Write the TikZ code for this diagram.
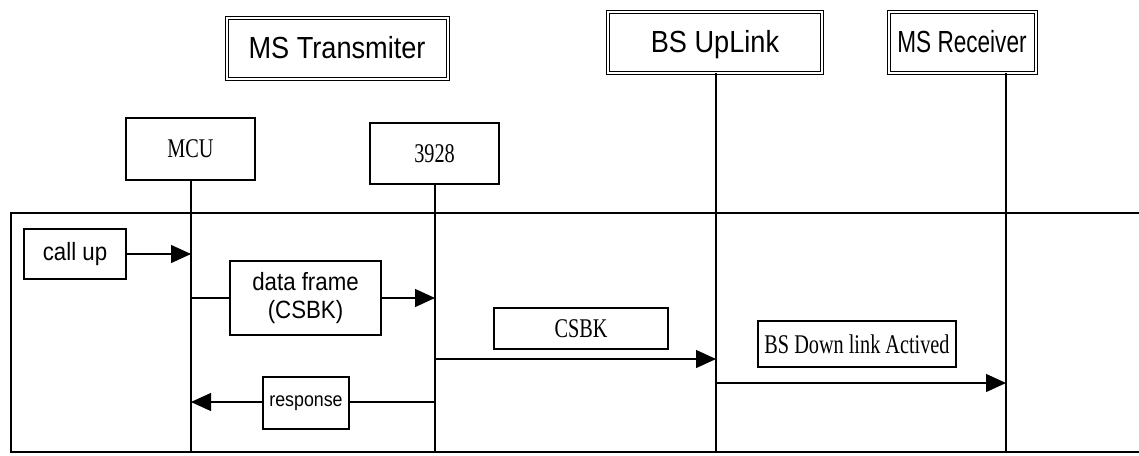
\documentclass[tikz,border=0pt]{standalone}
\usepackage{fontspec}
\setmainfont{Liberation Serif}
\newfontfamily\hdrfont[FakeStretch=0.89]{Liberation Sans}
\newfontfamily\hdrnarrow[FakeStretch=0.74]{Liberation Sans}
\newfontfamily\narrowserif[FakeStretch=0.75]{Liberation Serif}
\usetikzlibrary{arrows.meta}
\begin{document}
\begin{tikzpicture}[x=1pt,y=-1pt,
  line width=1.2pt,
  entity/.style={draw, double, double distance=2pt, line width=1pt, inner sep=0pt,
    text depth=1pt, font=\hdrfont\fontsize{30.5}{32}\selectfont},
  unit/.style={draw, inner sep=0pt, font=\narrowserif\fontsize{27}{29}\selectfont},
  sanslabel/.style={draw, inner sep=0pt, font=\hdrfont\fontsize{25}{28}\selectfont, align=center},
  serlabel/.style={draw, inner sep=0pt, font=\narrowserif\fontsize{27}{29}\selectfont},
  msg/.style={-{Triangle[length=20pt,width=18pt]}},
  life/.style={line width=1.2pt}]
\useasboundingbox (0,0) rectangle (1139,455);

% participants
\node[entity, minimum width=221pt, minimum height=61pt] (mst) at (337,48) {MS Transmiter};
\node[entity, minimum width=214pt, minimum height=61pt] (bsu) at (715,42) {BS UpLink};
\node[entity, minimum width=147pt, minimum height=61pt,
      font=\hdrnarrow\fontsize{30.5}{32}\selectfont] (msr) at (962,42) {MS Receiver};
\node[unit, minimum width=129pt, minimum height=62pt] (mcu) at (190.5,149) {MCU};
\node[unit, minimum width=129pt, minimum height=61pt] (chip) at (434.5,153.5) {3928};

% frame (open on the right)
\coordinate (ftl) at (11,213);
\coordinate (ftr) at (1139,213);
\coordinate (fbl) at (11,452);
\coordinate (fbr) at (1139,452);
\draw (ftr) -- (ftl) -- (fbl) -- (fbr);

% lifelines
\coordinate (mcuL) at (191,452);
\coordinate (chipL) at (435,452);
\coordinate (bsuL) at (716,452);
\coordinate (msrL) at (1006,452);
\draw[life] (mcu.south -| mcuL) -- (mcuL);
\draw[life] (chip.south -| chipL) -- (chipL);
\draw[life] (bsu.south -| bsuL) -- (bsuL);
\draw[life] (msr.south -| msrL) -- (msrL);

% message labels
\node[sanslabel, minimum width=102pt, minimum height=50pt] (callup) at (75,254) {call up};
\node[sanslabel, minimum width=151pt, minimum height=74pt] (frame) at (305.5,298) {data frame\\(CSBK)};
\node[sanslabel, minimum width=86pt, minimum height=52pt, font=\hdrfont\fontsize{20}{22}\selectfont] (resp) at (306,403) {response};
\node[serlabel, minimum width=174pt, minimum height=41pt] (csbk) at (581,328.5) {CSBK};
\node[serlabel, minimum width=198pt, minimum height=46pt] (bsdl) at (857,344) {BS Down link Actived};

% messages
\coordinate (csbkA) at (435,359);
\coordinate (bsdlA) at (716,383);
\draw[msg] (callup.east) -- (callup.east -| mcuL);
\draw (frame.west -| mcuL) -- (frame.west);
\draw[msg] (frame.east) -- (frame.east -| chipL);
\draw[msg] (csbkA) -- (csbkA -| bsuL);
\draw[msg] (bsdlA) -- (bsdlA -| msrL);
\coordinate (respA) at (435,402);
\draw (respA) -- (respA -| resp.east);
\draw[msg] (respA -| resp.west) -- (respA -| mcuL);
\end{tikzpicture}
\end{document}
